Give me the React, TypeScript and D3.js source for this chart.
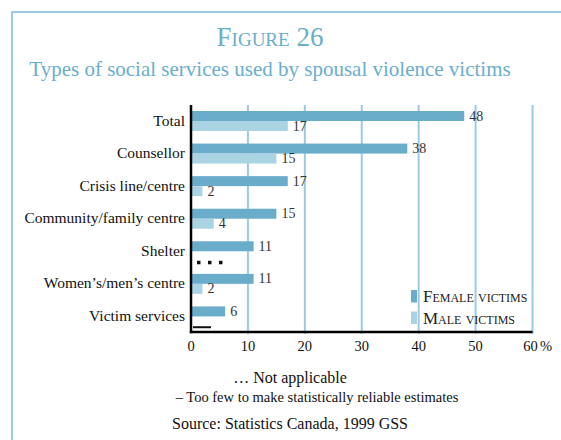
import React from "react";
import * as d3 from "d3";

const categories = [
  "Total",
  "Counsellor",
  "Crisis line/centre",
  "Community/family centre",
  "Shelter",
  "Women’s/men’s centre",
  "Victim services",
];
// null = not applicable, "low" = too few to make reliable estimates
const femaleValues: (number | null)[] = [48, 38, 17, 15, 11, 11, 6];
const maleValues: (number | string | null)[] = [17, 15, 2, 4, null, 2, "low"];
const xTicks = [0, 10, 20, 30, 40, 50, 60];
const seriesNames = ["Female victims", "Male victims"];

const FEMALE = "#6aadcb";
const MALE = "#aad3e3";
const FRAME = "#9ccbe0";
const TITLE = "#6aaecd";
const SERIF = "'Liberation Serif', 'DejaVu Serif', serif";

export default function App() {
  const x = d3.scaleLinear().domain([0, 60]).range([191, 532.5]);
  const y = d3.scaleBand<string>().domain(categories).range([106, 334]).padding(0);
  const top = 105;
  const bottom = 332;

  return (
    <svg
      width={561}
      height={440}
      style={{ position: "absolute", left: 0, top: 0, background: "#fff" }}
      fontFamily={SERIF}
    >
      {/* frame */}
      <path d="M12,440 L12,12 L561,12" fill="none" stroke={FRAME} strokeWidth={2} />

      {/* titles */}
      <text x={270} y={46} textAnchor="middle" fontSize={27} fill={TITLE} style={{ fontVariant: "small-caps" }}>
        Figure 26
      </text>
      <text x={270} y={76} textAnchor="middle" fontSize={21} fill={TITLE}>
        Types of social services used by spousal violence victims
      </text>

      {/* gridlines */}
      {xTicks.filter((t) => t > 0).map((t) => (
        <line key={t} x1={x(t)} x2={x(t)} y1={top} y2={bottom + 2} stroke={FRAME} strokeWidth={2} />
      ))}

      {/* bars */}
      {categories.map((c, i) => {
        const b = y(c)!;
        const f = femaleValues[i];
        const m = maleValues[i];
        return (
          <g key={c}>
            <text x={185} y={b + 19.5} textAnchor="end" fontSize={15.5} fill="#111">
              {c}
            </text>
            {f != null && (
              <>
                <rect x={x(0)} y={b + 5} width={x(f) - x(0)} height={10} fill={FEMALE} />
                <text x={x(f) + 5} y={b + 14.5} fontSize={14} fill="#333">
                  {f}
                </text>
              </>
            )}
            {typeof m === "number" && (
              <>
                <rect x={x(0)} y={b + 15} width={x(m) - x(0)} height={10} fill={MALE} />
                <text x={x(m) + 5} y={b + 24.5} fontSize={14} fill="#333">
                  {m}
                </text>
              </>
            )}
            {m === null &&
              [0, 1, 2].map((k) => (
                <rect key={k} x={197 + k * 11} y={b + 24.5} width={3.5} height={3.5} fill="#111" />
              ))}
            {m === "low" && (
              <line x1={193} x2={211} y1={b + 25.8} y2={b + 25.8} stroke="#111" strokeWidth={2} />
            )}
          </g>
        );
      })}

      {/* axes */}
      <line x1={x(0)} x2={x(0)} y1={top} y2={bottom + 1.2} stroke="#000" strokeWidth={2.5} />
      <line x1={x(0) - 1.2} x2={x(60)} y1={bottom} y2={bottom} stroke="#000" strokeWidth={2.5} />

      {/* tick labels */}
      {xTicks.map((t) => (
        <text key={t} x={t === 60 ? x(t) - 2 : x(t)} y={351} textAnchor="middle" fontSize={14.5} fill="#111">
          {t}
        </text>
      ))}
      <text x={x(60) + 7.5} y={351} fontSize={14.5} fill="#111">
        %
      </text>

      {/* legend */}
      {seriesNames.map((s, i) => (
        <g key={s}>
          <rect x={411} y={290 + i * 21.5} width={6} height={12.5} fill={i === 0 ? FEMALE : MALE} />
          <text x={423} y={302 + i * 21.5} fontSize={17} fill="#222" style={{ fontVariant: "small-caps" }}>
            {s}
          </text>
        </g>
      ))}

      {/* notes */}
      <text x={290} y={383} textAnchor="middle" fontSize={16} fill="#111">
        … Not applicable
      </text>
      <text x={317} y={402} textAnchor="middle" fontSize={14.5} fill="#111">
        – Too few to make statistically reliable estimates
      </text>
      <text x={290} y={429} textAnchor="middle" fontSize={16} fill="#111">
        Source: Statistics Canada, 1999 GSS
      </text>
    </svg>
  );
}
